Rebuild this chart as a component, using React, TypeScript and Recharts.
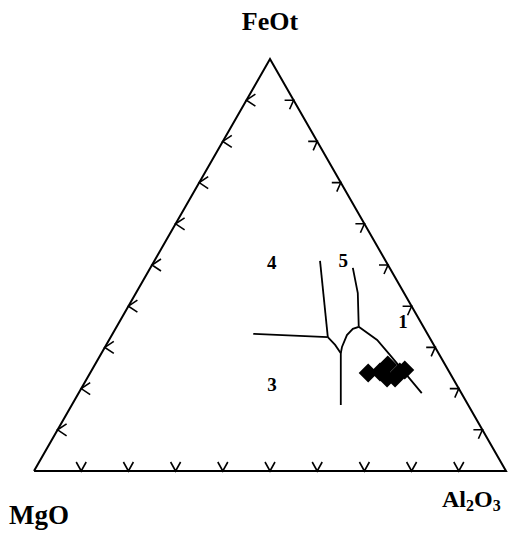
import React from 'react';
import { ScatterChart, Scatter, XAxis, YAxis } from 'recharts';

// compositions are [MgO, FeOt, Al2O3] in %
type Comp = [number, number, number];

const SQ = Math.sqrt(3) / 2;

const corners: Comp[] = [[100, 0, 0], [0, 100, 0], [0, 0, 100], [100, 0, 0]];
const tickValues = [10, 20, 30, 40, 50, 60, 70, 80, 90];

// field boundaries
const line34: Comp[] = [[36.9, 33.3, 29.8], [21.5, 32.5, 46.0]];
const line45: Comp[] = [[21.5, 32.5, 46.0], [13.9, 51.0, 35.1]];
const line23: Comp[] = [[21.5, 32.5, 46.0], [20.9, 30.6, 48.5], [20.7, 28.6, 50.7], [27.0, 16.0, 57.0]];
const lineArc: Comp[] = [[20.7, 28.6, 50.7], [19.7, 30.1, 50.2], [17.2, 33.0, 49.8], [15.2, 34.5, 50.3], [13.7, 35.0, 51.3]];
const line15: Comp[] = [[13.7, 35.0, 51.3], [9.8, 43.2, 47.0], [7.8, 49.3, 42.9]];
const line12: Comp[] = [[13.7, 35.0, 51.3], [11.4, 31.8, 56.8], [10.5, 28.2, 61.3], [8.4, 18.9, 72.7]];

// samples
const sampleMgO = [17.3, 14.7, 12.2, 13.9, 10.5, 9.2, 12.2];
const sampleFeOt = [23.8, 24.0, 25.7, 22.6, 24.0, 24.5, 22.6];
const sampleAl2O3 = [58.9, 61.3, 62.1, 63.5, 65.5, 66.3, 65.2];

// field names and where they sit
const fieldNames = ['4', '5', '1', '3'];
const fieldPos: Comp[] = [[24.4, 50.5, 25.1], [9.0, 51.0, 40.0], [3.7, 36.2, 60.1], [39.1, 20.9, 40.0]];

const toXY = ([mg, fe, al]: Comp) => {
  const s = mg + fe + al;
  return { x: (al + fe / 2) / s, y: (fe / s) * SQ };
};

const samples = sampleMgO.map((m, i) => toXY([m, sampleFeOt[i], sampleAl2O3[i]]));
const bottomTicks = tickValues.map((t) => toXY([100 - t, 0, t]));
const leftTicks = tickValues.map((t) => toXY([100 - t, t, 0]));
const rightTicks = tickValues.map((t) => toXY([0, t, 100 - t]));
const fields = fieldNames.map((name, i) => ({ ...toXY(fieldPos[i]), name }));

const lineStyle = { stroke: '#000', strokeWidth: 1.8 };
const noDot = () => <g />;

const chevron = (a: [number, number], b: [number, number]) => (props: any) => {
  const { cx, cy } = props;
  return (
    <path
      d={`M${cx + a[0]},${cy + a[1]} L${cx},${cy} L${cx + b[0]},${cy + b[1]}`}
      fill="none"
      stroke="#000"
      strokeWidth={1.6}
    />
  );
};

const Diamond = (props: any) => {
  const { cx, cy } = props;
  const r = 9.5;
  return <polygon points={`${cx},${cy - r} ${cx + r},${cy} ${cx},${cy + r} ${cx - r},${cy}`} fill="#000" />;
};

const FieldLabel = (props: any) => {
  const { cx, cy, payload } = props;
  return (
    <text x={cx} y={cy} textAnchor="middle" dominantBaseline="central" fontFamily="Liberation Serif" fontWeight="bold" fontSize={19}>
      {payload.name}
    </text>
  );
};

const serif = { fontFamily: 'Liberation Serif', fontWeight: 'bold' as const };

export default function App() {
  return (
    <div style={{ position: 'absolute', left: 0, top: 0, background: '#fff' }}>
      <ScatterChart width={508} height={534} margin={{ top: 59, right: 2, bottom: 63, left: 34 }}>
        <XAxis type="number" dataKey="x" domain={[0, 1]} hide />
        <YAxis type="number" dataKey="y" domain={[0, SQ]} hide />
        <Scatter data={corners.map(toXY)} line={{ stroke: '#000', strokeWidth: 2 }} shape={noDot} isAnimationActive={false} />
        {[line34, line45, line23, lineArc, line15, line12].map((l, i) => (
          <Scatter key={i} data={l.map(toXY)} line={lineStyle} shape={noDot} isAnimationActive={false} />
        ))}
        <Scatter data={bottomTicks} shape={chevron([-5, -9], [5, -9])} isAnimationActive={false} />
        <Scatter data={leftTicks} shape={chevron([9, -6], [9, 6])} isAnimationActive={false} />
        <Scatter data={rightTicks} shape={chevron([-9, 0], [-4, 9])} isAnimationActive={false} />
        <Scatter data={samples} shape={Diamond} isAnimationActive={false} />
        <Scatter data={fields} shape={FieldLabel} isAnimationActive={false} />
        <text x={270} y={30} textAnchor="middle" fontSize={26} {...serif}>FeOt</text>
        <text x={9} y={524} fontSize={27} {...serif}>MgO</text>
        <text x={442} y={507} fontSize={24} {...serif}>
          Al<tspan fontSize={16} dy={4}>2</tspan><tspan dy={-4}>O</tspan><tspan fontSize={16} dy={4}>3</tspan>
        </text>
      </ScatterChart>
    </div>
  );
}
